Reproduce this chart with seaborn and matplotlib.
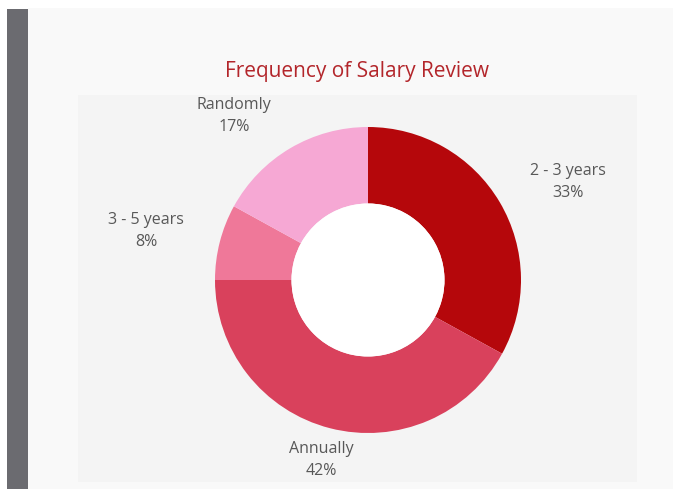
import matplotlib
matplotlib.use("Agg")
import matplotlib.pyplot as plt
from matplotlib.patches import Rectangle, Circle
import seaborn as sns
import numpy as np

categories = ["2 - 3 years", "Annually", "3 - 5 years", "Randomly"]
shares = [33, 42, 8, 17]
colors = ["#b5070b", "#d9415c", "#ef7899", "#f6a8d4"]

sns.set_theme(style="white")
plt.rcParams['font.family'] = ['Open Sans', 'DejaVu Sans']

W, H = 673, 492
fig = plt.figure(figsize=(W / 100, H / 100), dpi=100, facecolor="white")

def px_rect(x0, y0, x1, y1, color):
    # pixel box (from top-left) -> figure fraction
    fig.add_artist(Rectangle((x0 / W, 1 - y1 / H), (x1 - x0) / W, (y1 - y0) / H,
                             transform=fig.transFigure, facecolor=color,
                             edgecolor="none", zorder=0))

px_rect(7, 9, 28, 489, "#6b6b70")
px_rect(28, 8, 673, 489, "#f9f9f9")
px_rect(78, 95, 637, 482, "#f4f4f4")

# donut centre (368, 280) px, radius 153 px
R = 153
lim = 1.3
side = 2 * lim * R
cx, cy = 368, H - 280
ax = fig.add_axes([(cx - side / 2) / W, (cy - side / 2) / H, side / W, side / H])
ax.set_facecolor("none")

wedges, _ = ax.pie(shares, colors=colors, startangle=90, counterclock=False,
                   wedgeprops=dict(width=0.5, linewidth=0))
ax.add_patch(Circle((0, 0), 0.5, facecolor="white", edgecolor="none"))

# label placement: radial distance and angular nudge (deg) per slice
label_dist = [1.456, 1.215, 1.486, 1.384]
label_nudge = [-4.5, -0.2, 2.0, 8.6]
for w, name, val, d, n in zip(wedges, categories, shares, label_dist, label_nudge):
    ang = np.deg2rad((w.theta1 + w.theta2) / 2 + n)
    ax.text(d * np.cos(ang), d * np.sin(ang), f"{name}\n{val}%",
            ha="center", va="center", fontsize=11.5, color="#585858",
            linespacing=1.5)

ax.set_xlim(-lim, lim)
ax.set_ylim(-lim, lim)
ax.set_aspect("equal")
ax.axis("off")

fig.text(357 / W, 1 - 71 / H, "Frequency of Salary Review", ha="center",
         va="center", fontsize=15, color="#b3262b", fontweight="medium")

fig.savefig("out.png", dpi=100, facecolor="white")
